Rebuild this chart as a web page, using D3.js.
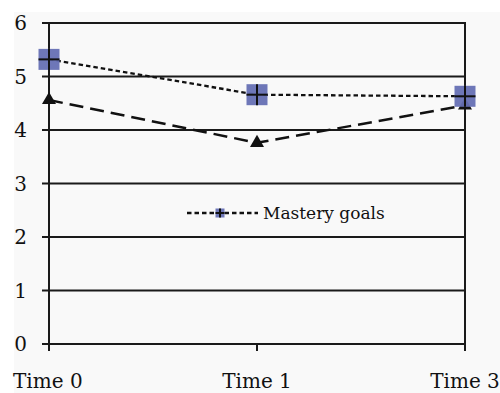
<!DOCTYPE html>
<html><head><meta charset="utf-8">
<script src="https://cdn.jsdelivr.net/npm/d3@7"></script>
<style>body{margin:0;background:#fff}svg{display:block}</style>
</head><body><svg id="c" width="500" height="393"></svg>
<script>
const categories = ["Time 0", "Time 1", "Time 3"];
const masteryGoals = [5.32, 4.66, 4.63];
const otherSeries = [4.56, 3.76, 4.46];
const yTicks = [0, 1, 2, 3, 4, 5, 6];
const legendLabel = "Mastery goals";

const svg = d3.select("#c");
const font = "DejaVu Serif";
svg.append("rect").attr("x", 14).attr("y", 12).attr("width", 486).attr("height", 381).attr("fill", "#f9f9f9");

const x = d3.scalePoint().domain(categories).range([49, 465]);
const y = d3.scaleLinear().domain([0, 6]).range([344, 23]);

// gridlines
svg.append("g").selectAll("line").data(yTicks).join("line")
  .attr("x1", 42).attr("x2", 465).attr("y1", d => y(d)).attr("y2", d => y(d))
  .attr("stroke", "#1a1a1a").attr("stroke-width", 2);
// y axis and right border
[categories[0], categories[2]].forEach(c => {
  svg.append("line").attr("x1", x(c)).attr("x2", x(c)).attr("y1", y(6) - 1).attr("y2", y(0) + 7)
    .attr("stroke", "#1a1a1a").attr("stroke-width", 2);
});
svg.append("line").attr("x1", x(categories[1])).attr("x2", x(categories[1])).attr("y1", y(0)).attr("y2", y(0) + 7)
  .attr("stroke", "#1a1a1a").attr("stroke-width", 2);

// y tick labels
svg.append("g").selectAll("text").data(yTicks).join("text")
  .attr("x", 27).attr("y", d => y(d)).attr("dy", "0.36em").attr("text-anchor", "end")
  .attr("font-family", font).attr("font-size", 20).attr("fill", "#111").text(d => d);
// x labels
svg.append("g").selectAll("text").data(categories).join("text")
  .attr("x", (d, i) => i === 0 ? 13 : x(d)).attr("y", 388)
  .attr("text-anchor", (d, i) => i === 0 ? "start" : "middle")
  .attr("font-family", font).attr("font-size", 20).attr("fill", "#111").text(d => d);

const line = d3.line().x((d, i) => x(categories[i])).y(d => y(d));
// second series (long dashes, triangles)
svg.append("path").datum(otherSeries).attr("d", line).attr("fill", "none")
  .attr("stroke", "#111").attr("stroke-width", 2.5).attr("stroke-dasharray", "14,7");
svg.append("g").selectAll("path").data(otherSeries).join("path")
  .attr("transform", (d, i) => `translate(${x(categories[i])},${y(d)})`)
  .attr("d", d3.symbol(d3.symbolTriangle, 85)).attr("fill", "#111");

// mastery goals (short dashes, squares)
svg.append("path").datum(masteryGoals).attr("d", line).attr("fill", "none")
  .attr("stroke", "#111").attr("stroke-width", 2.3).attr("stroke-dasharray", "4.5,3");
function marker(g, cx, cy, s) {
  g.append("rect").attr("x", cx - s / 2).attr("y", cy - s / 2).attr("width", s).attr("height", s)
    .attr("fill", "#6670b4").attr("opacity", 0.95);
  g.append("line").attr("x1", cx - s / 2).attr("x2", cx + s / 2).attr("y1", cy).attr("y2", cy)
    .attr("stroke", "#111").attr("stroke-width", 2);
  g.append("line").attr("x1", cx).attr("x2", cx).attr("y1", cy - s / 2).attr("y2", cy + s / 2)
    .attr("stroke", "#111").attr("stroke-width", 2);
}
const mg = svg.append("g");
masteryGoals.forEach((d, i) => marker(mg, x(categories[i]), y(d), 21));

// legend
const lg = svg.append("g");
lg.append("line").attr("x1", 187).attr("x2", 258).attr("y1", 213).attr("y2", 213)
  .attr("stroke", "#111").attr("stroke-width", 2.3).attr("stroke-dasharray", "4.5,3");
marker(lg, 220, 213, 9);
lg.append("text").attr("x", 263).attr("y", 219).attr("font-family", font).attr("font-size", 17)
  .attr("fill", "#111").text(legendLabel);
</script></body></html>
